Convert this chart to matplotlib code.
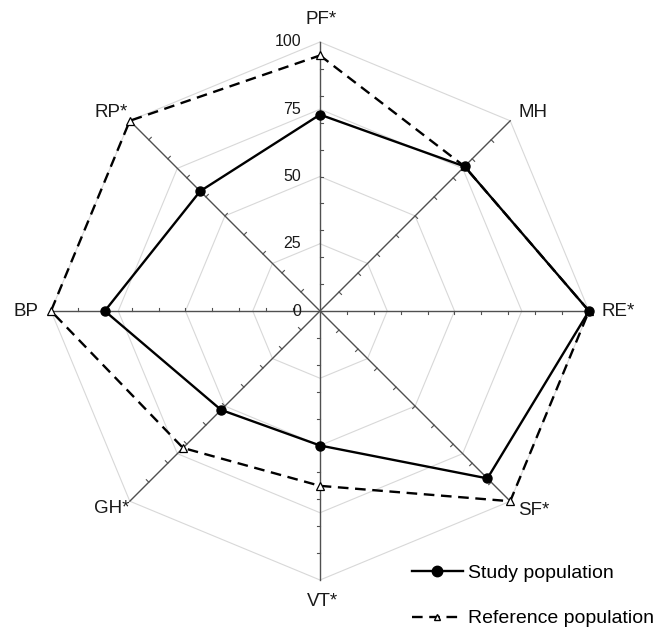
import numpy as np
import matplotlib
matplotlib.use('Agg')
import matplotlib.pyplot as plt

plt.rcParams['font.family'] = ['Liberation Sans', 'DejaVu Sans']

# SF-36 domains, clockwise from the top
domains = ['PF*', 'MH', 'RE*', 'SF*', 'VT*', 'GH*', 'BP', 'RP*']
angles_deg = [90, 45, 0, -45, -90, -135, 180, 135]
study = [73, 76, 100, 88, 50, 52, 80, 63]
reference = [95, 76, 100, 100, 65, 72, 100, 100]
grid_levels = [25, 50, 75, 100]
tick_labels = ['0', '25', '50', '75', '100']
# label offsets in pixels from the axis end (dx, dy)
label_offsets = [(1, 22), (23, 8), (29, 0), (24, -9), (3, -22), (-18, -7), (-25, 0), (-19, 8)]

W, H = 664, 632
cx, cy, r100 = 320, 311, 269.0  # centre and radius of 100 in pixels
scale = r100 / 100.0

fig = plt.figure(figsize=(W / 100, H / 100), dpi=100)
ax = fig.add_axes([0, 0, 1, 1])
ax.set_xlim(-cx / scale, (W - cx) / scale)
ax.set_ylim(-(H - cy) / scale, cy / scale)
ax.set_aspect('equal')
ax.axis('off')

ang = np.deg2rad(angles_deg)
ca, sa = np.cos(ang), np.sin(ang)

# grey octagons
for lev in grid_levels:
    ax.plot(np.append(lev * ca, lev * ca[0]), np.append(lev * sa, lev * sa[0]),
            color='#d8d8d8', lw=0.8, zorder=1)

# spokes with small ticks
tick_len = 1.3
for c, s in zip(ca, sa):
    ax.plot([0, 100 * c], [0, 100 * s], color='#505050', lw=1.0, zorder=2)
    pc, ps = s, -c  # clockwise perpendicular
    for v in range(10, 100, 10):
        ax.plot([v * c, v * c + tick_len * pc], [v * s, v * s + tick_len * ps],
                color='#505050', lw=0.8, zorder=2)

# radial value labels on the PF spoke
for i, t in enumerate(tick_labels):
    ax.annotate(t, xy=(0, i * 25), xytext=(-19, 0), textcoords='offset pixels',
                ha='right', va='center', fontsize=11.5, color='#1a1a1a')

# domain labels
for name, c, s, off in zip(domains, ca, sa, label_offsets):
    ax.annotate(name, xy=(100 * c, 100 * s), xytext=off, textcoords='offset pixels',
                ha='center', va='center', fontsize=13.5, color='#1a1a1a')

xs = np.array(study) * ca
ys = np.array(study) * sa
xr = np.array(reference) * ca
yr = np.array(reference) * sa

ax.plot(np.append(xr, xr[0]), np.append(yr, yr[0]), color='black', lw=1.7,
        dashes=(4.5, 2.8), zorder=3)
ax.plot(np.append(xs, xs[0]), np.append(ys, ys[0]), color='black', lw=1.7, zorder=4)
ax.plot(xr, yr, ls='none', marker='^', ms=6, mfc='white', mec='black', mew=0.9, zorder=5)
ax.plot(xs, ys, ls='none', marker='o', ms=6.5, color='black', zorder=6)

# legend handles
h1, = ax.plot([], [], color='black', lw=1.7, marker='o', ms=7.5)
h2, = ax.plot([], [], color='black', lw=1.7, dashes=(4.5, 2.8), marker='^', ms=5,
              mfc='white', mec='black')
fig.legend([h1, h2], ['Study population', 'Reference population'],
           loc='upper left', bbox_to_anchor=(412 / W, 1 - 564 / H),
           frameon=False, fontsize=14, handlelength=2.6, handletextpad=0.3,
           labelspacing=1.45, borderpad=0, borderaxespad=0)

plt.savefig('out.png', dpi=100)
plt.close()
